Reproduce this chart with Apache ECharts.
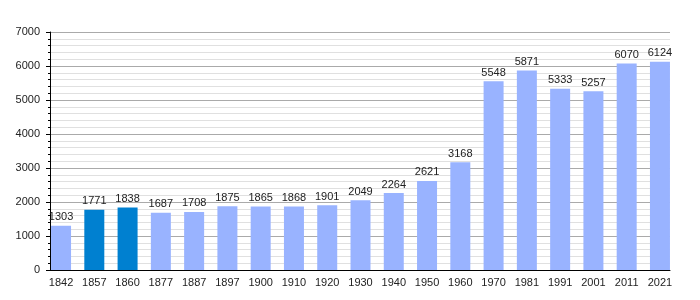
<!DOCTYPE html>
<html>
<head>
<meta charset="utf-8">
<script src="https://cdn.jsdelivr.net/npm/echarts@6/dist/echarts.min.js"></script>
<style>
  html, body { margin: 0; padding: 0; background: #fff; }
  #main { width: 700px; height: 300px; }
</style>
</head>
<body>
<div id="main"></div>
<script>
var years = ['1842', '1857', '1860', '1877', '1887', '1897', '1900', '1910', '1920', '1930',
             '1940', '1950', '1960', '1970', '1981', '1991', '2001', '2011', '2021'];
var population = [1303, 1771, 1838, 1687, 1708, 1875, 1865, 1868, 1901, 2049,
                  2264, 2621, 3168, 5548, 5871, 5333, 5257, 6070, 6124];
var highlighted = ['1857', '1860'];

var myChart = echarts.init(document.getElementById('main'));
var font = 'Liberation Sans, Arial, sans-serif';

var option = {
    animation: false,
    textStyle: { fontFamily: font },
    grid: [
        { left: 50, right: 30, top: 32, bottom: 30 },
        { left: 44.4, right: 23.4, top: 32, bottom: 30 }
    ],
    xAxis: [
        {
            gridIndex: 0, type: 'value', min: 0, max: 1,
            axisLine: { show: true, onZero: false, lineStyle: { color: '#000', width: 1 } },
            axisTick: { show: false }, axisLabel: { show: false }, splitLine: { show: false }
        },
        {
            gridIndex: 1, type: 'category', data: years,
            axisLine: { show: false }, axisTick: { show: false },
            axisLabel: { interval: 0, margin: 7, fontSize: 11, color: '#222', fontFamily: font }
        }
    ],
    yAxis: [
        {
            gridIndex: 0, type: 'value', min: 0, max: 7000, interval: 1000,
            axisLine: { show: true, lineStyle: { color: '#000', width: 1 } },
            axisTick: { show: true, length: 4, lineStyle: { color: '#000' } },
            minorTick: { show: true, splitNumber: 5, length: 2, lineStyle: { color: '#000' } },
            axisLabel: {
                margin: 10, fontSize: 11, color: '#222', fontFamily: font,
                formatter: function (v) { return String(v); }
            },
            splitLine: { show: true, lineStyle: { color: '#aaaaaa', width: 1 } },
            minorSplitLine: { show: true, lineStyle: { color: '#e0e0e0', width: 1 } }
        },
        {
            gridIndex: 1, type: 'value', min: 0, max: 7000, show: false
        }
    ],
    series: [{
        type: 'bar',
        xAxisIndex: 1,
        yAxisIndex: 1,
        barWidth: 20,
        data: population,
        itemStyle: {
            color: function (p) {
                return highlighted.indexOf(years[p.dataIndex]) >= 0 ? '#0080d0' : '#99b3ff';
            }
        },
        label: {
            show: true, position: 'top', distance: 3,
            fontSize: 11, color: '#222', fontFamily: font
        }
    }]
};

myChart.setOption(option);
</script>
</body>
</html>
